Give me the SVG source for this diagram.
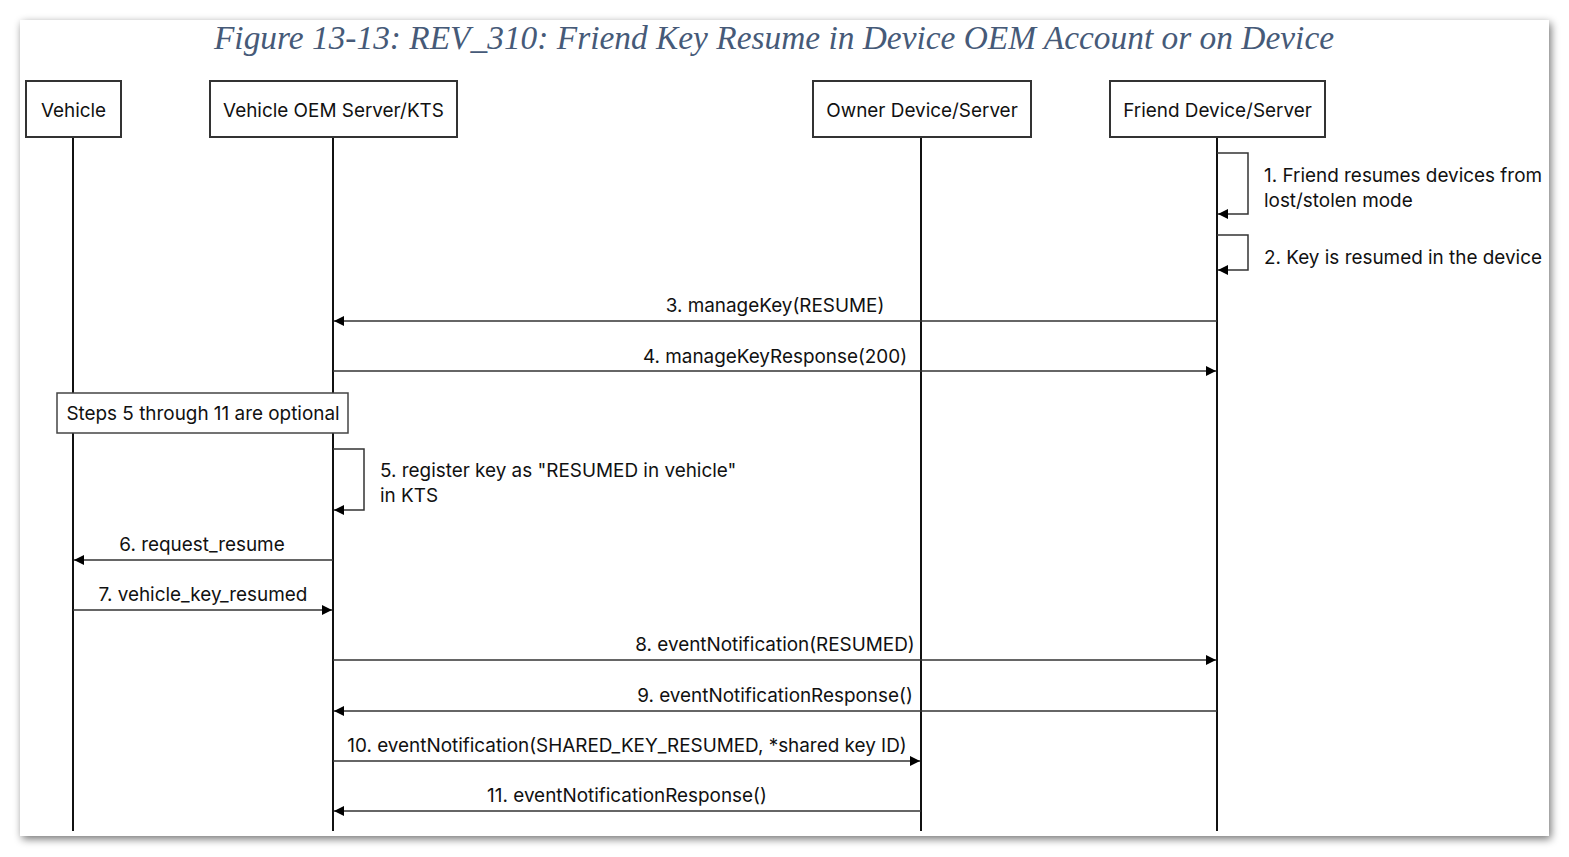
<svg xmlns="http://www.w3.org/2000/svg" width="1569" height="857" viewBox="0 0 1569 857">
<defs>
<filter id="sh" x="-5%" y="-5%" width="110%" height="110%">
<feGaussianBlur in="SourceAlpha" stdDeviation="4"/>
<feOffset dx="2" dy="3" result="b"/>
<feComponentTransfer><feFuncA type="linear" slope="0.55"/></feComponentTransfer>
<feMerge><feMergeNode/><feMergeNode in="SourceGraphic"/></feMerge>
</filter>
<marker id="ah" viewBox="0 0 10 10" refX="10" refY="5" markerWidth="10" markerHeight="10" markerUnits="userSpaceOnUse" orient="auto">
<path d="M0,0 L10,5 L0,10 z" fill="#000"/>
</marker>
</defs>
<style>
.t{font-family:Inter,"Noto Sans","Liberation Sans",sans-serif;font-size:18.9px;fill:#111}
.box{fill:#fff;stroke:#333;stroke-width:2}
.life{stroke:#111;stroke-width:2;fill:none}
.msg{stroke:#333;stroke-width:1.5;fill:none;marker-end:url(#ah)}
.title{font-family:"Liberation Serif","Times New Roman",serif;font-style:italic;font-size:33.4px;fill:#465a78}
</style>
<rect x="0" y="0" width="1569" height="857" fill="#fff"/>
<rect x="20" y="20" width="1529" height="816" fill="#fff" filter="url(#sh)"/>
<text class="title" x="774" y="49" text-anchor="middle">Figure 13-13: REV_310: Friend Key Resume in Device OEM Account or on Device</text>

<g id="lifelines">
<line class="life" x1="73" y1="137" x2="73" y2="831"/>
<line class="life" x1="333" y1="137" x2="333" y2="831"/>
<line class="life" x1="921" y1="137" x2="921" y2="831"/>
<line class="life" x1="1217" y1="137" x2="1217" y2="831"/>
</g>

<g id="vehicle"><rect class="box" x="26" y="81" width="95" height="56"/><text class="t" x="73.5" y="117" text-anchor="middle">Vehicle</text></g>
<g id="oem"><rect class="box" x="210" y="81" width="247" height="56"/><text class="t" x="333.5" y="117" text-anchor="middle">Vehicle OEM Server/KTS</text></g>
<g id="owner"><rect class="box" x="813" y="81" width="218" height="56"/><text class="t" x="922" y="117" text-anchor="middle">Owner Device/Server</text></g>
<g id="friend"><rect class="box" x="1110" y="81" width="215" height="56"/><text class="t" x="1217.5" y="117" text-anchor="middle">Friend Device/Server</text></g>

<g id="note"><rect x="57" y="393" width="291" height="40" fill="#fff" stroke="#444" stroke-width="1.5"/><text class="t" x="203" y="420" text-anchor="middle">Steps 5 through 11 are optional</text></g>

<g id="connectors">
<polyline class="msg" points="1217,153 1248,153 1248,214 1218,214"/>
<text class="t" x="1264" y="182">1. Friend resumes devices from</text>
<text class="t" x="1264" y="207">lost/stolen mode</text>
<polyline class="msg" points="1217,235 1248,235 1248,270 1218,270"/>
<text class="t" x="1264" y="264">2. Key is resumed in the device</text>
<line class="msg" x1="1217" y1="321" x2="334" y2="321"/>
<text class="t" x="775" y="312" text-anchor="middle">3. manageKey(RESUME)</text>
<line class="msg" x1="333" y1="371" x2="1216" y2="371"/>
<text class="t" x="775" y="363" text-anchor="middle">4. manageKeyResponse(200)</text>
<polyline class="msg" points="333,449 364,449 364,510 334,510"/>
<text class="t" x="380" y="477">5. register key as "RESUMED in vehicle"</text>
<text class="t" x="380" y="502">in KTS</text>
<line class="msg" x1="333" y1="560" x2="74" y2="560"/>
<text class="t" x="202" y="551" text-anchor="middle">6. request_resume</text>
<line class="msg" x1="73" y1="610" x2="332" y2="610"/>
<text class="t" x="203" y="601" text-anchor="middle">7. vehicle_key_resumed</text>
<line class="msg" x1="333" y1="660" x2="1216" y2="660"/>
<text class="t" x="775" y="651" text-anchor="middle">8. eventNotification(RESUMED)</text>
<line class="msg" x1="1217" y1="711" x2="334" y2="711"/>
<text class="t" x="775" y="702" text-anchor="middle">9. eventNotificationResponse()</text>
<line class="msg" x1="333" y1="761" x2="920" y2="761"/>
<text class="t" x="627" y="752" text-anchor="middle">10. eventNotification(SHARED_KEY_RESUMED, *shared key ID)</text>
<line class="msg" x1="921" y1="811" x2="334" y2="811"/>
<text class="t" x="627" y="802" text-anchor="middle">11. eventNotificationResponse()</text>
</g>
</svg>
